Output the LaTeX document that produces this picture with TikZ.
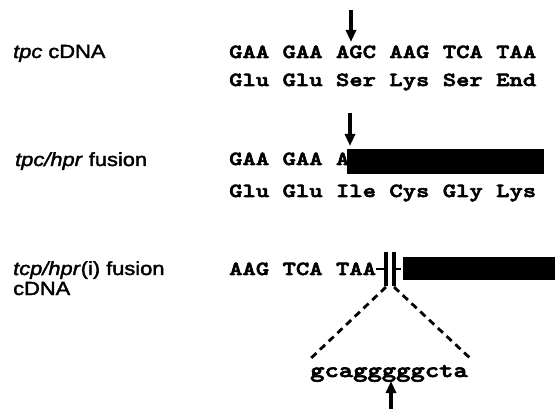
\documentclass[tikz,border=0pt]{standalone}
\usepackage{fontspec}
\setmainfont{Liberation Sans}
\newfontfamily\lblfont[FakeStretch=1.15, FakeBold=2]{Liberation Sans}
\newfontfamily\seqfont[FakeStretch=1.27, FakeBold=3]{lmmonolt10-bold.otf}
\usetikzlibrary{arrows.meta}

\begin{document}
\begin{tikzpicture}[x=1pt, y=-1pt,
    lbl/.style={anchor=base west, inner sep=0pt, font=\lblfont\fontsize{19}{19}\selectfont},
    seq/.style={anchor=base west, inner sep=0pt, font=\seqfont\fontsize{20}{20}\selectfont},
    cut/.style={line width=3.4pt, -{Triangle[length=12pt, width=10pt]}},
    ]
    \useasboundingbox (0,0) rectangle (555,409);
    %%% tpc cDNA
    \node[lbl] (lab1) at (13,58) {\textit{tpc} cDNA};
    \foreach \c [count=\i from 0] in {GAA,GAA,AGC,AAG,TCA,TAA}
        \node[seq] (dna1\i) at ({229+53.4*\i},58) {\c};
    \foreach \c [count=\i from 0] in {Glu,Glu,Ser,Lys,Ser,End}
        \node[seq] (aa1\i) at ({229+53.4*\i},86) {\c};
    \coordinate (cut1a) at (351,10);
    \coordinate (cut1b) at (351,42);
    \draw[cut] (cut1a) -- (cut1b);
    %
    %%% tpc/hpr fusion
    \node[lbl] (lab2) at (15,166) {\textit{tpc/hpr} fusion};
    \foreach \c [count=\i from 0] in {GAA,GAA,A}
        \node[seq] (dna2\i) at ({229+53.4*\i},165) {\c};
    \fill (347,149) rectangle (544,174);
    \foreach \c [count=\i from 0] in {Glu,Glu,Ile,Cys,Gly,Lys}
        \node[seq] (aa2\i) at ({229+53.4*\i},197) {\c};
    \coordinate (cut2a) at (350,113);
    \coordinate (cut2b) at (350,146);
    \draw[cut] (cut2a) -- (cut2b);
    %
    %%% tcp/hpr(i) fusion cDNA
    \node[lbl] (lab3) at (13,275) {\textit{tcp/hpr}(i) fusion};
    \node[lbl] (lab3b) at (13,295) {cDNA};
    \foreach \c [count=\i from 0] in {AAG,TCA,TAA}
        \node[seq] (dna3\i) at ({229+53.4*\i},275) {\c};
    \draw[line width=2.2pt] (376,269) -- (386,269) (394,269) -- (401,269);
    \draw[line width=3.2pt] (386,252) -- (386,286) (394,252) -- (394,286);
    \fill (403,257) rectangle (556,280);
    \draw[line width=2.8pt, dash pattern=on 7pt off 5pt] (386,287) -- (308,361);
    \draw[line width=2.8pt, dash pattern=on 7pt off 5pt] (394,287) -- (471,359);
    \node[seq, anchor=base, font=\seqfont\fontsize{21.5}{21.5}\selectfont] (ins) at (389,377) {gcagggggcta};
    \coordinate (cut3a) at (391,409);
    \coordinate (cut3b) at (391,381);
    \draw[cut] (cut3a) -- (cut3b);
\end{tikzpicture}
\end{document}
